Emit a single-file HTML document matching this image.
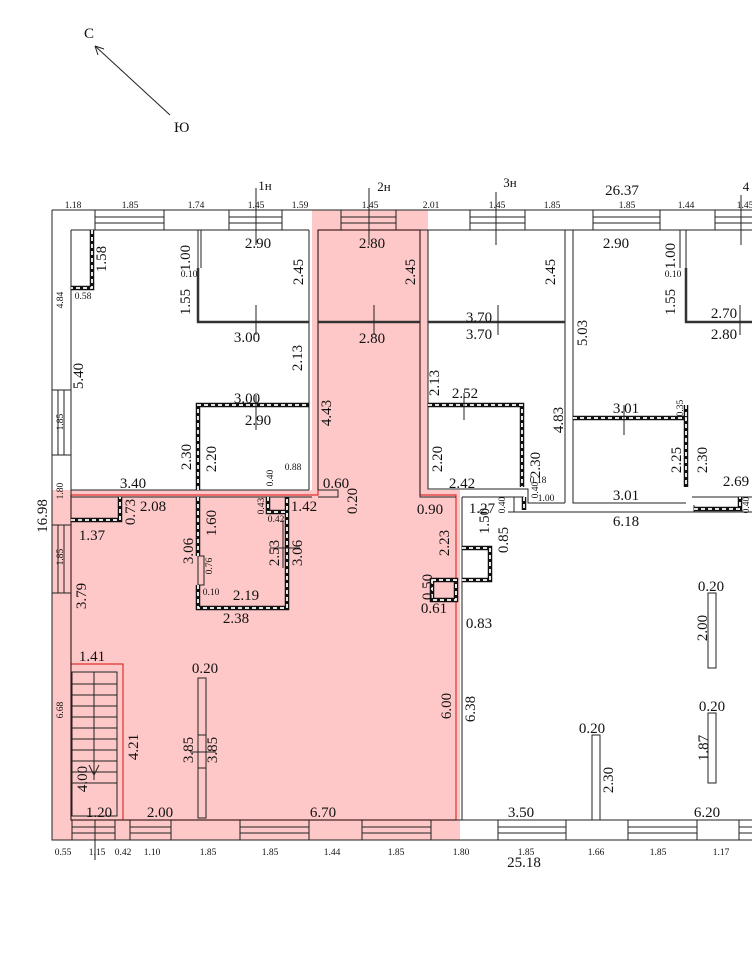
<!DOCTYPE html>
<html><head><meta charset="utf-8"><style>
html,body{margin:0;padding:0;background:#fff}
svg{display:block}
text{font-family:"Liberation Serif",serif;fill:#111}
.s{font-size:9.5px;fill:#333}
.m{font-size:15px}
.l{stroke:#222;stroke-width:1;fill:none}
.t{stroke:#333;stroke-width:2.5;fill:none}
.hb{stroke:#111;stroke-width:4.5;fill:none}
.hw{stroke:#fff;stroke-width:1.8;stroke-dasharray:4 3;fill:none}
</style></head><body>
<svg width="752" height="960" viewBox="0 0 752 960" xmlns="http://www.w3.org/2000/svg">
<path d="M312 210H428V490H460V840H52V490H312Z" fill="#ffc8c8"/>
<path d="M318 230H420V495H456V820H71V495H318Z" fill="none" stroke="#e03030" stroke-width="1.2"/>
<path d="M71 664H123V820" fill="none" stroke="#e03030" stroke-width="1.2"/>

<text x="84" y="38" class="m">С</text>
<line x1="170" y1="115" x2="95" y2="46" class="l"/>
<path d="M95 46 L104 49 M95 46 L98 55" class="l"/>
<text x="174" y="132" class="m">Ю</text>

<path d="M52 210H752 M71 230H309 M318 230H428 M428 230H752 M52 210V840H752 M71 230V820H460 M460 820H752" class="l"/>
<g class="l">
<rect x="95" y="210" width="69" height="20"/><line x1="95" y1="217" x2="164" y2="217"/><line x1="95" y1="223" x2="164" y2="223"/>
<rect x="229" y="210" width="53" height="20"/><line x1="229" y1="217" x2="282" y2="217"/><line x1="229" y1="223" x2="282" y2="223"/>
<rect x="341" y="210" width="55" height="20"/><line x1="341" y1="217" x2="396" y2="217"/><line x1="341" y1="223" x2="396" y2="223"/>
<rect x="470" y="210" width="55" height="20"/><line x1="470" y1="217" x2="525" y2="217"/><line x1="470" y1="223" x2="525" y2="223"/>
<rect x="593" y="210" width="67" height="20"/><line x1="593" y1="217" x2="660" y2="217"/><line x1="593" y1="223" x2="660" y2="223"/>
<rect x="715" y="210" width="40" height="20"/><line x1="715" y1="217" x2="755" y2="217"/><line x1="715" y1="223" x2="755" y2="223"/>
<rect x="52" y="390" width="19" height="65"/><line x1="58" y1="390" x2="58" y2="455"/><line x1="64" y1="390" x2="64" y2="455"/>
<rect x="52" y="525" width="19" height="68"/><line x1="58" y1="525" x2="58" y2="593"/><line x1="64" y1="525" x2="64" y2="593"/>
<rect x="72" y="820" width="43" height="20"/><line x1="72" y1="827" x2="115" y2="827"/><line x1="72" y1="833" x2="115" y2="833"/>
<rect x="130" y="820" width="41" height="20"/><line x1="130" y1="827" x2="171" y2="827"/><line x1="130" y1="833" x2="171" y2="833"/>
<rect x="240" y="820" width="69" height="20"/><line x1="240" y1="827" x2="309" y2="827"/><line x1="240" y1="833" x2="309" y2="833"/>
<rect x="362" y="820" width="69" height="20"/><line x1="362" y1="827" x2="431" y2="827"/><line x1="362" y1="833" x2="431" y2="833"/>
<rect x="498" y="820" width="68" height="20"/><line x1="498" y1="827" x2="566" y2="827"/><line x1="498" y1="833" x2="566" y2="833"/>
<rect x="628" y="820" width="69" height="20"/><line x1="628" y1="827" x2="697" y2="827"/><line x1="628" y1="833" x2="697" y2="833"/>
<rect x="739" y="820" width="16" height="20"/><line x1="739" y1="827" x2="755" y2="827"/><line x1="739" y1="833" x2="755" y2="833"/>
</g>

<g class="l">
<path d="M309 230V490 M318 230V490 M71 490H309 M318 490H338V497H318 M71 497H312"/>
<path d="M201 230V268 M198 230V268"/>
<path d="M420 230V490 M428 230V489H528V503H565 M565 230V503 M573 230V503H686 M692 497H752"/>
<path d="M680 230V268 M686 230V268"/>
<path d="M462 497H510 M508 512H752 M462 497V820"/>
<path d="M420 490V497H456"/>
<path d="M283 520V568"/>
<rect x="198" y="556" width="6" height="29"/>
<rect x="198" y="678" width="8" height="140"/>
<line x1="198" y1="735" x2="206" y2="735"/><line x1="198" y1="768" x2="206" y2="768"/>
<rect x="708" y="593" width="8" height="75"/>
<rect x="708" y="713" width="8" height="70"/>
<rect x="592" y="735" width="8" height="85"/>
<path d="M514 497V512 M510 497H524 M694 505V512"/>
</g>
<g class="t">
<path d="M198 268V322H309 M318 322H420 M428 322H565 M686 268V322H752"/>
</g>
<g>
<path class="hb" d="M92 230V288H71 M198 490V405H309 M428 405H522V487 M573 418H686V487 M686 405V418 M71 520H120V497 M198 497V556 M198 585V608H287V497 M268 497V512H285 M432 580H456V600H432Z M462 548H490V580H462 M694 509H740V497 M524 497V510"/>
<path class="hw" d="M92 230V288H71 M198 490V405H309 M428 405H522V487 M573 418H686V487 M686 405V418 M71 520H120V497 M198 497V556 M198 585V608H287V497 M268 497V512H285 M432 580H456V600H432Z M462 548H490V580H462 M694 509H740V497 M524 497V510"/>
</g>
<g class="l">
<rect x="72" y="672" width="45" height="144"/><line x1="94" y1="672" x2="94" y2="780"/>
<path d="M72 684H117M72 695H117M72 706H117M72 717H117M72 728H117M72 739H117M72 750H117M72 761H117M72 772H117M72 783H117"/>
<path d="M94 755V775 M89 765L94 775L99 765"/>
</g>
<g class="l">
<line x1="256" y1="188" x2="256" y2="245"/><line x1="256" y1="305" x2="256" y2="335"/><line x1="256" y1="395" x2="256" y2="430"/>
<line x1="369" y1="188" x2="369" y2="245"/><line x1="374" y1="305" x2="374" y2="335"/>
<line x1="496" y1="192" x2="496" y2="245"/><line x1="498" y1="305" x2="498" y2="335"/>
<line x1="464" y1="393" x2="464" y2="420"/><line x1="624" y1="405" x2="624" y2="435"/>
<line x1="741" y1="195" x2="741" y2="245"/><line x1="740" y1="305" x2="740" y2="335"/>
<line x1="95" y1="820" x2="95" y2="860"/>
<line x1="270" y1="548" x2="300" y2="548"/><line x1="190" y1="752" x2="216" y2="752"/>
</g>

<g class="s" text-anchor="middle">
<text x="73" y="208">1.18</text><text x="130" y="208">1.85</text><text x="196" y="208">1.74</text><text x="256" y="208">1.45</text><text x="300" y="208">1.59</text><text x="370" y="208">1.45</text><text x="431" y="208">2.01</text><text x="497" y="208">1.45</text><text x="552" y="208">1.85</text><text x="627" y="208">1.85</text><text x="686" y="208">1.44</text><text x="745" y="208">1.45</text>
<text x="63" y="855">0.55</text><text x="97" y="855">1.15</text><text x="123" y="855">0.42</text><text x="152" y="855">1.10</text><text x="208" y="855">1.85</text><text x="270" y="855">1.85</text><text x="332" y="855">1.44</text><text x="396" y="855">1.85</text><text x="461" y="855">1.80</text><text x="526" y="855">1.85</text><text x="596" y="855">1.66</text><text x="658" y="855">1.85</text><text x="721" y="855">1.17</text>
<text x="83" y="299">0.58</text><text x="189" y="277">0.10</text><text x="673" y="277">0.10</text><text x="293" y="470">0.88</text><text x="276" y="522">0.42</text><text x="211" y="595">0.10</text><text x="538" y="483">0.18</text><text x="546" y="501">1.00</text>
<text transform="translate(63 300) rotate(-90)">4.84</text><text transform="translate(63 422) rotate(-90)">1.85</text><text transform="translate(63 491) rotate(-90)">1.80</text><text transform="translate(63 557) rotate(-90)">1.85</text><text transform="translate(63 710) rotate(-90)">6.68</text>
<text transform="translate(273 478) rotate(-90)">0.40</text><text transform="translate(264 506) rotate(-90)">0.43</text><text transform="translate(212 566) rotate(-90)">0.76</text><text transform="translate(538 490) rotate(-90)">0.40</text><text transform="translate(505 505) rotate(-90)">0.40</text><text transform="translate(749 505) rotate(-90)">0.40</text><text transform="translate(683 408) rotate(-90)">0.35</text>
</g>
<g class="m" text-anchor="middle" style="font-size:13px">
<text x="265" y="190">1н</text><text x="384" y="191">2н</text><text x="510" y="187">3н</text><text x="746" y="191">4</text>
</g>
<g class="m" text-anchor="middle">
<text x="622" y="195">26.37</text>
<text x="524" y="867">25.18</text>
<text transform="translate(47 516) rotate(-90)">16.98</text>
<text x="258" y="248">2.90</text><text x="372" y="248">2.80</text><text x="247" y="342">3.00</text><text x="372" y="343">2.80</text>
<text x="479" y="322">3.70</text><text x="479" y="339">3.70</text><text x="616" y="248">2.90</text><text x="724" y="318">2.70</text><text x="724" y="339">2.80</text>
<text x="247" y="403">3.00</text><text x="258" y="425">2.90</text><text x="465" y="398">2.52</text><text x="626" y="413">3.01</text>
<text x="133" y="488">3.40</text><text x="462" y="488">2.42</text><text x="626" y="500">3.01</text><text x="736" y="486">2.69</text>
<text x="336" y="488">0.60</text><text x="430" y="514">0.90</text><text x="482" y="513">1.27</text><text x="626" y="526">6.18</text>
<text x="153" y="511">2.08</text><text x="92" y="540">1.37</text><text x="304" y="511">1.42</text>
<text x="246" y="600">2.19</text><text x="236" y="623">2.38</text><text x="434" y="613">0.61</text><text x="479" y="628">0.83</text>
<text x="92" y="661">1.41</text><text x="205" y="673">0.20</text><text x="99" y="817">1.20</text><text x="160" y="817">2.00</text><text x="323" y="817">6.70</text>
<text x="711" y="591">0.20</text><text x="592" y="733">0.20</text><text x="712" y="711">0.20</text><text x="521" y="817">3.50</text><text x="707" y="817">6.20</text>
</g>
<g class="m" text-anchor="middle">
<text transform="translate(190 258) rotate(-90)">1.00</text><text transform="translate(190 302) rotate(-90)">1.55</text>
<text transform="translate(303 272) rotate(-90)">2.45</text><text transform="translate(415 272) rotate(-90)">2.45</text><text transform="translate(555 272) rotate(-90)">2.45</text>
<text transform="translate(106 259) rotate(-90)">1.58</text>
<text transform="translate(675 256) rotate(-90)">1.00</text><text transform="translate(675 302) rotate(-90)">1.55</text>
<text transform="translate(587 333) rotate(-90)">5.03</text>
<text transform="translate(83 376) rotate(-90)">5.40</text><text transform="translate(302 358) rotate(-90)">2.13</text><text transform="translate(331 413) rotate(-90)">4.43</text><text transform="translate(439 383) rotate(-90)">2.13</text>
<text transform="translate(563 420) rotate(-90)">4.83</text>
<text transform="translate(191 457) rotate(-90)">2.30</text><text transform="translate(216 459) rotate(-90)">2.20</text><text transform="translate(442 459) rotate(-90)">2.20</text><text transform="translate(540 465) rotate(-90)">2.30</text><text transform="translate(681 460) rotate(-90)">2.25</text><text transform="translate(707 460) rotate(-90)">2.30</text>
<text transform="translate(357 501) rotate(-90)">0.20</text><text transform="translate(135 512) rotate(-90)">0.73</text>
<text transform="translate(216 523) rotate(-90)">1.60</text><text transform="translate(193 551) rotate(-90)">3.06</text><text transform="translate(279 553) rotate(-90)">2.53</text><text transform="translate(302 553) rotate(-90)">3.06</text>
<text transform="translate(449 543) rotate(-90)">2.23</text><text transform="translate(489 521) rotate(-90)">1.50</text><text transform="translate(508 540) rotate(-90)">0.85</text><text transform="translate(432 587) rotate(-90)">0.50</text>
<text transform="translate(86 596) rotate(-90)">3.79</text><text transform="translate(138 747) rotate(-90)">4.21</text><text transform="translate(193 750) rotate(-90)">3.85</text><text transform="translate(217 750) rotate(-90)">3.85</text>
<text transform="translate(451 706) rotate(-90)">6.00</text><text transform="translate(475 709) rotate(-90)">6.38</text><text transform="translate(87 779) rotate(-90)">4.00</text>
<text transform="translate(707 628) rotate(-90)">2.00</text><text transform="translate(613 780) rotate(-90)">2.30</text><text transform="translate(708 748) rotate(-90)">1.87</text>
</g>
</svg>
</body></html>
